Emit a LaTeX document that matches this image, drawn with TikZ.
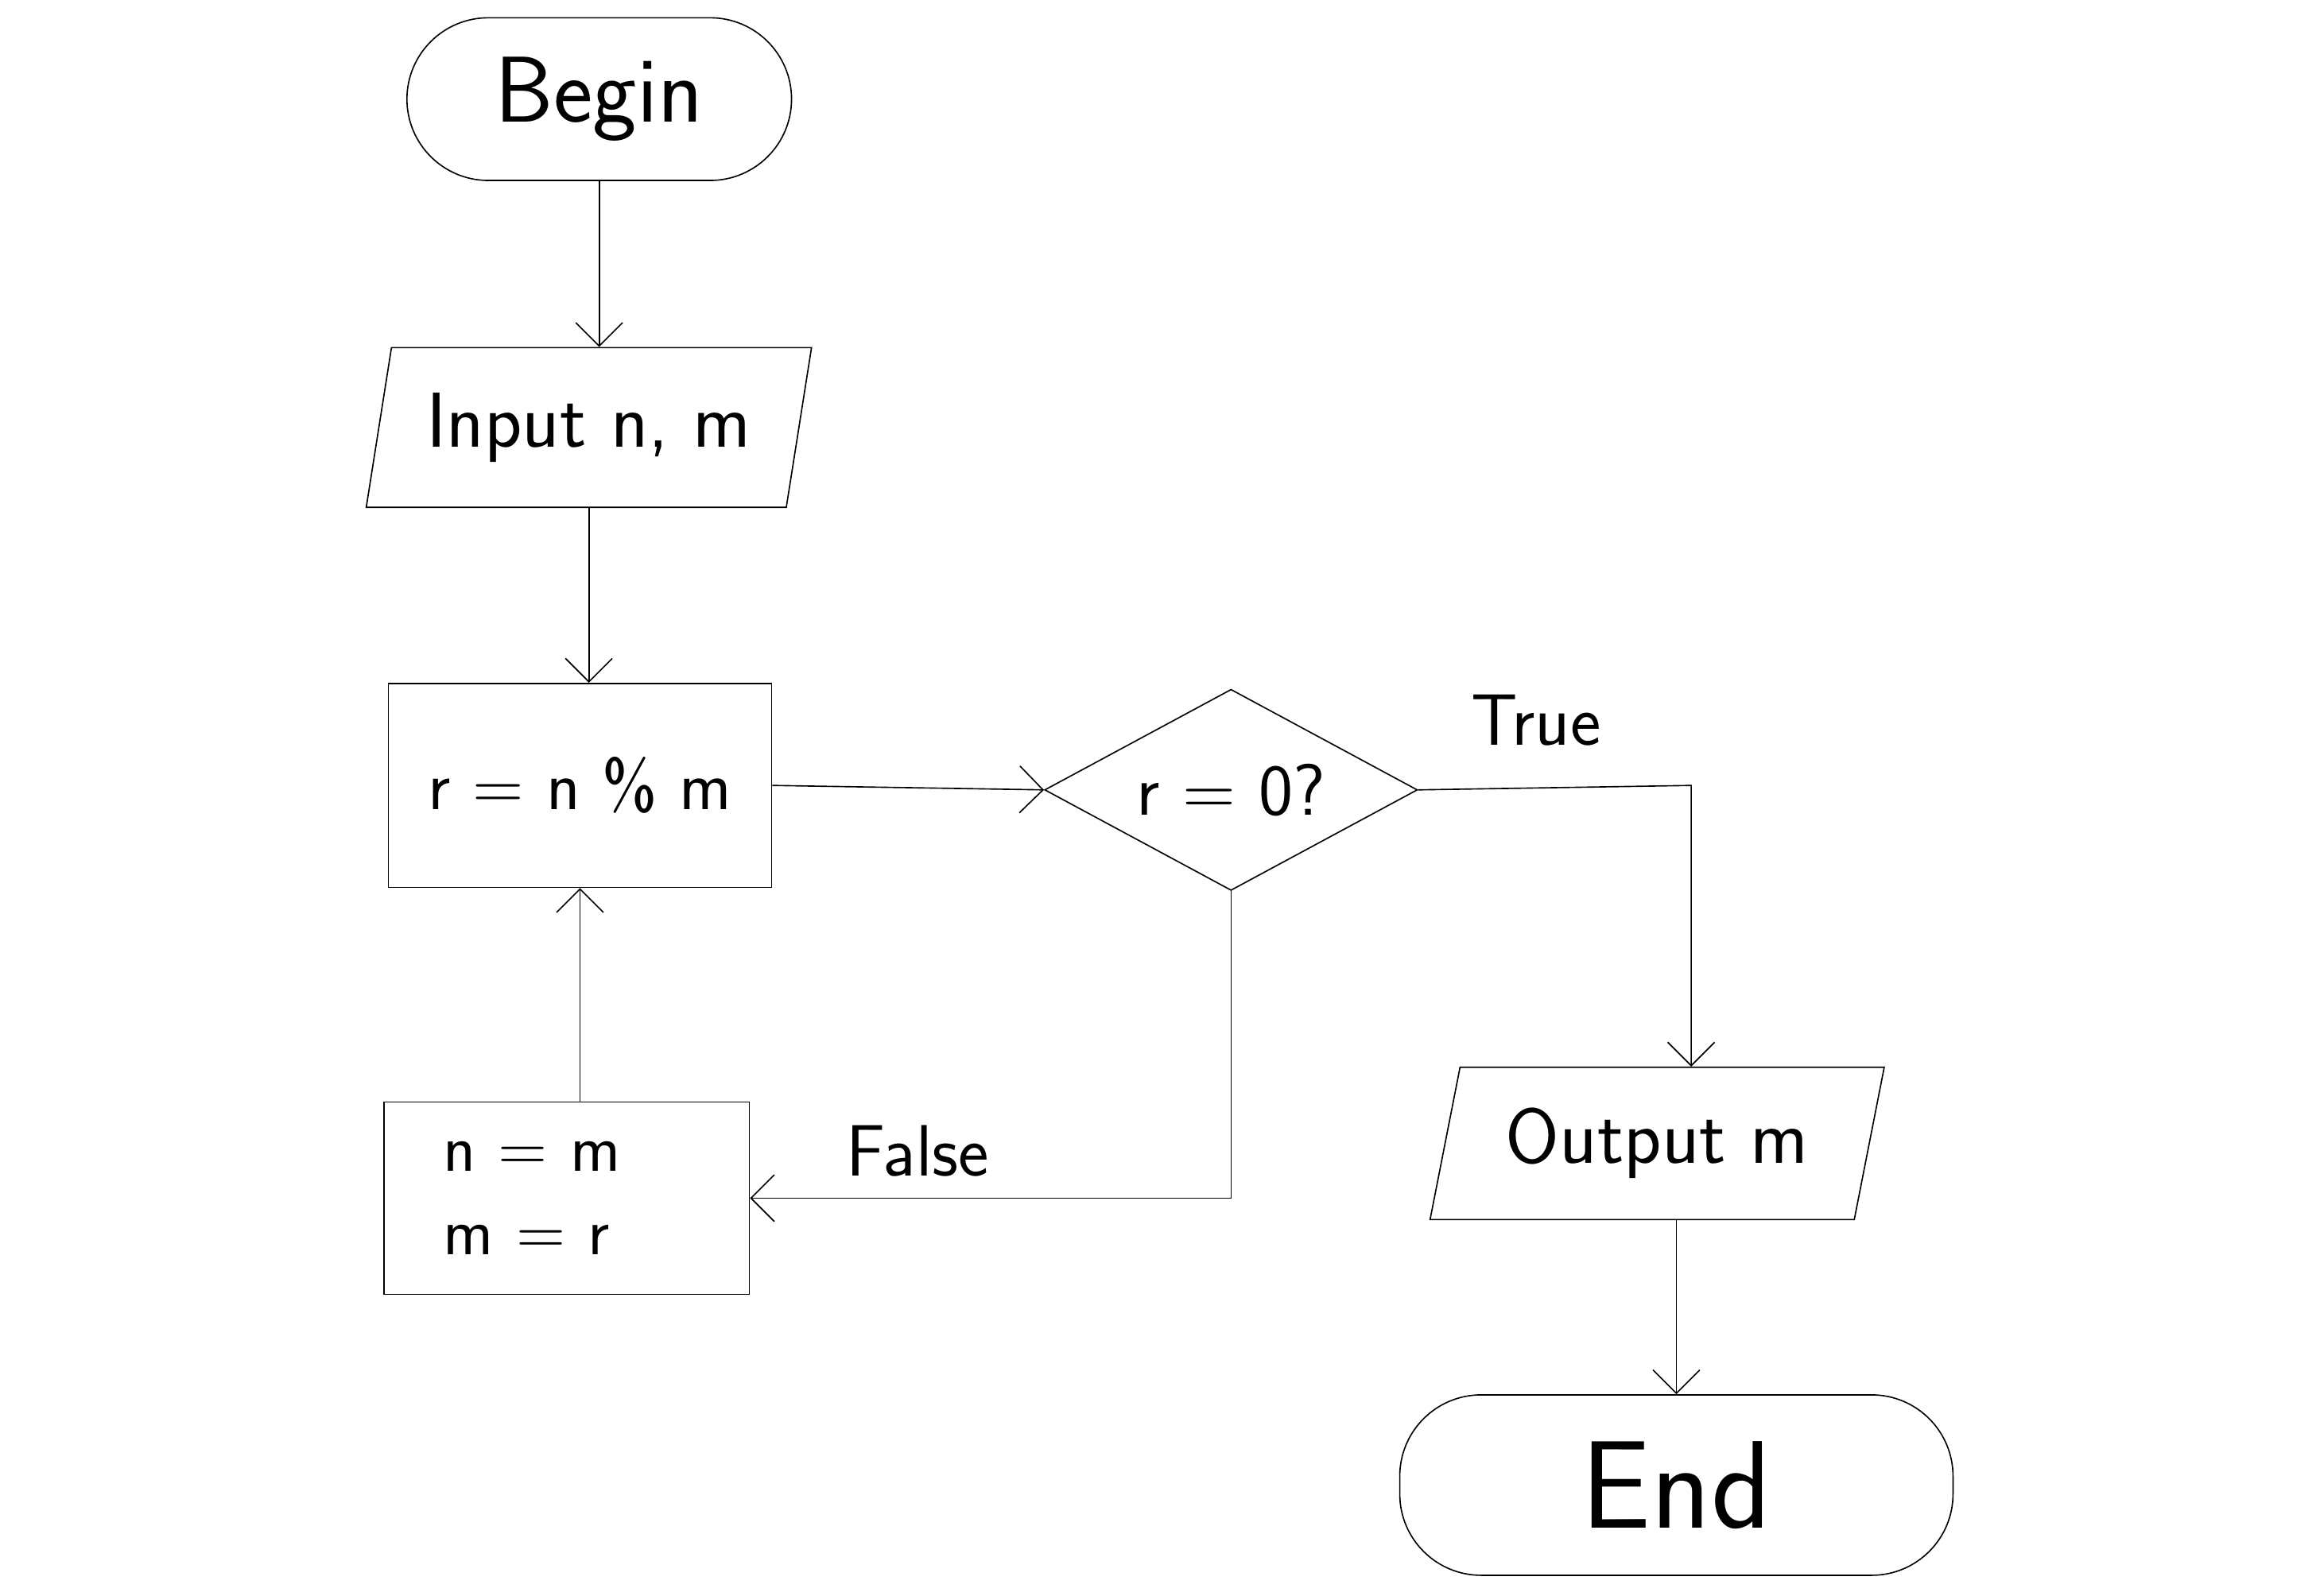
\documentclass[tikz,border=0pt]{standalone}
\usetikzlibrary{shapes.geometric,arrows.meta}
\begin{document}
\begin{tikzpicture}[x=0.02cm,y=-0.02cm,
  every node/.style={font=\sffamily\fontsize{30}{34}\selectfont},
  base/.style={draw,line width=0.5pt,inner sep=0pt},
  terminal/.style={base,rectangle,rounded corners=1.1cm},
  iobox/.style={base,trapezium,trapezium stretches body,trapezium left angle=#1,trapezium right angle=180-#1},
  procbox/.style={base,rectangle},
  decision/.style={base,diamond,aspect=1.85},
  flow/.style={draw,line width=0.5pt,-{Straight Barb[length=9pt,width=18pt]}},
  lbl/.style={font=\sffamily\fontsize{28}{32}\selectfont}
]
\useasboundingbox (0,0) rectangle (1568,1079);

\node[terminal,minimum width=5.2cm,minimum height=2.2cm,font=\sffamily\fontsize{36}{40}\selectfont] (begin) at (405,67) {Begin};
\node[iobox=70,minimum width=6.02cm,minimum height=2.16cm] (input) at (398,289) {Input n, m};
\node[procbox,minimum width=5.18cm,minimum height=2.76cm,font=\sffamily\fontsize{27}{31}\selectfont] (calc) at (392,531) {r = n \% m};
\node[decision,minimum width=5.04cm,minimum height=2.72cm,font=\sffamily\fontsize{28}{32}\selectfont] (test) at (832,534) {r = 0?};
\node[procbox,minimum height=2.6cm,inner xsep=0.8cm,text width=3.34cm,align=left,font=\sffamily\fontsize{26}{32}\selectfont] (swap) at (383,810) {n = m\\m = r};
\node[iobox=67,minimum width=6.14cm,minimum height=2.06cm] (output) at (1120,773) {Output m};
\node[terminal,minimum width=7.48cm,minimum height=2.44cm,font=\sffamily\fontsize{48}{52}\selectfont] (end) at (1133,1004) {End};

\coordinate (tturn) at (1143,531);

\draw[flow] (begin.south) -- (begin.south |- input.north);
\draw[flow] (input.south) -- (input.south |- calc.north);
\draw[flow] (calc.east) -- (test.west);
\draw[flow] (test.east) -- (tturn) -- (tturn |- output.north);
\draw[flow] (test.south) |- (swap.east);
\draw[flow] (calc.south |- swap.north) -- (calc.south);
\draw[flow] (end.north |- output.south) -- (end.north);

\node[lbl] (tlabel) at (1038,487) {True};
\node[lbl] (flabel) at (620,778) {False};
\end{tikzpicture}
\end{document}
